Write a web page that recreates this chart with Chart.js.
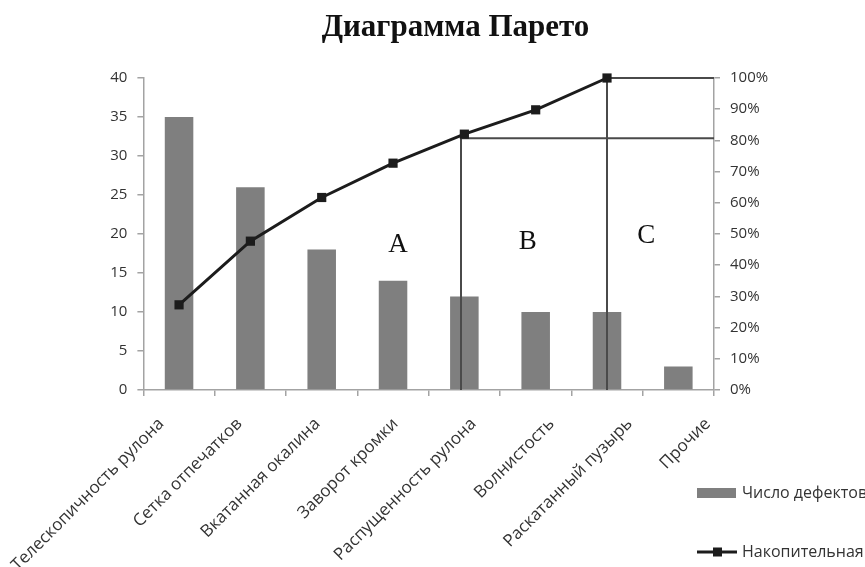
<!DOCTYPE html>
<html lang="ru">
<head>
<meta charset="utf-8">
<title>Диаграмма Парето</title>
<script src="https://cdn.jsdelivr.net/npm/chart.js@4"></script>
<style>
  html, body { margin: 0; padding: 0; background: #ffffff; }
  #wrap { position: relative; width: 865px; height: 567px; }
</style>
</head>
<body>
<div id="wrap"><canvas id="pareto"></canvas></div>
<script>
// Defect types, sorted by frequency
const categories = [
  'Телескопичность рулона',
  'Сетка отпечатков',
  'Вкатанная окалина',
  'Заворот кромки',
  'Распущенность рулона',
  'Волнистость',
  'Раскатанный пузырь',
  'Прочие'
];
// Number of defects per type
const defectCounts = [35, 26, 18, 14, 12, 10, 10, 3];
// Cumulative share, %
const cumulativeShare = [27.3, 47.7, 61.7, 72.7, 82.0, 89.8, 100, null];
// Axis ranges and steps
const countAxis = { min: 0, max: 40, step: 5 };
const shareAxis = { min: 0, max: 100, step: 10 };
// ABC zones: border after a category at a given cumulative level
const zoneBorders = [
  { index: 4, level: 80.7, shift: -3 },
  { index: 6, level: 100, shift: 0 }
];
const zoneNames = ['A', 'B', 'C'];

const seriesNames = ['Число дефектов', 'Накопительная'];

const sansFont = '"Open Sans", "DejaVu Sans", sans-serif';
const serifFont = '"Liberation Serif", "Times New Roman", serif';
const textColor = '#333333';
const axisColor = '#a3a3a3';
const barColor = '#7f7f7f';
const lineColor = '#1c1c1c';

// Zone letter placement (category coordinate, count coordinate)
const zoneLetterPos = [
  { at: 3.07, count: 18.6 },
  { at: 4.89, count: 19.0 },
  { at: 6.55, count: 19.8 }
];

function drawZones(chart) {
  const { ctx, chartArea } = chart;
  const x = chart.scales.x, y = chart.scales.y, y1 = chart.scales.y1;
  ctx.save();
  ctx.strokeStyle = '#4a4a4a';
  ctx.lineWidth = 2;
  zoneBorders.forEach(b => {
    const px = Math.round(x.getPixelForValue(b.index)) + b.shift;
    const topY = y1.getPixelForValue(cumulativeShare[b.index]);
    const levelY = y1.getPixelForValue(b.level);
    ctx.beginPath();
    ctx.moveTo(px, y.getPixelForValue(0));
    ctx.lineTo(px, topY);
    ctx.stroke();
    ctx.beginPath();
    ctx.moveTo(px, levelY);
    ctx.lineTo(chartArea.right, levelY);
    ctx.stroke();
  });
  ctx.fillStyle = '#111111';
  ctx.font = '27px ' + serifFont;
  ctx.textAlign = 'center';
  ctx.textBaseline = 'middle';
  zoneNames.forEach((name, i) => {
    const p = zoneLetterPos[i];
    ctx.fillText(name, x.getPixelForValue(p.at), y.getPixelForValue(p.count));
  });
  ctx.restore();
}

const paretoOverlay = {
  id: 'paretoOverlay',
  beforeDatasetDraw(chart, args) {
    // zone borders go above the bars but below the cumulative line
    if (chart.data.datasets[args.index].type === 'line') drawZones(chart);
  },
  afterDraw(chart) {
    // legend below the right axis
    const { ctx, chartArea } = chart;
    const left = chartArea.right - 17;
    const rows = [chartArea.bottom + 103, chartArea.bottom + 162];
    const bar = chart.data.datasets.find(d => d.type === 'bar');
    const line = chart.data.datasets.find(d => d.type === 'line');
    ctx.save();
    ctx.fillStyle = bar.backgroundColor;
    ctx.fillRect(left, rows[0] - 5, 39, 10);
    ctx.strokeStyle = line.borderColor;
    ctx.lineWidth = 3;
    ctx.beginPath();
    ctx.moveTo(left, rows[1]);
    ctx.lineTo(left + 40, rows[1]);
    ctx.stroke();
    ctx.fillStyle = line.pointBackgroundColor;
    ctx.fillRect(left + 16, rows[1] - 4.5, 9, 9);
    ctx.font = '16px ' + sansFont;
    ctx.fillStyle = textColor;
    ctx.textAlign = 'left';
    ctx.textBaseline = 'middle';
    ctx.fillText(bar.label, left + 45, rows[0]);
    ctx.fillText(line.label, left + 45, rows[1]);
    ctx.restore();
  }
};

new Chart(document.getElementById('pareto'), {
  type: 'bar',
  data: {
    labels: categories,
    datasets: [
      {
        type: 'line',
        label: seriesNames[1],
        data: cumulativeShare,
        yAxisID: 'y1',
        borderColor: lineColor,
        borderWidth: 3,
        pointStyle: 'rect',
        pointRadius: 6.5,
        pointBackgroundColor: lineColor,
        pointBorderColor: lineColor,
        pointBorderWidth: 0,
        tension: 0,
        spanGaps: false,
        clip: false,
        order: 0
      },
      {
        type: 'bar',
        label: seriesNames[0],
        data: defectCounts,
        yAxisID: 'y',
        backgroundColor: barColor,
        borderWidth: 0,
        barPercentage: 0.4,
        categoryPercentage: 1,
        order: 1
      }
    ]
  },
  options: {
    responsive: true,
    maintainAspectRatio: false,
    animation: false,
    layout: { padding: { left: 46, right: 0, top: 0, bottom: 0 } },
    plugins: {
      legend: { display: false },
      tooltip: { enabled: false },
      title: {
        display: true,
        text: 'Диаграмма Парето',
        color: '#111111',
        font: { family: serifFont, size: 31, weight: 'bold', lineHeight: 1.2 },
        padding: { top: 9, bottom: 31.8 }
      }
    },
    scales: {
      x: {
        type: 'category',
        position: 'bottom',
        weight: 0,
        offset: true,
        grid: { display: true, offset: true, drawOnChartArea: false, drawTicks: true, tickLength: 6, color: axisColor, lineWidth: 1.5 },
        border: { display: true, color: axisColor, width: 1.5 },
        ticks: { display: false },
        afterFit(scale) { scale.height = 6; }
      },
      // category names, spread a little wider than the bars
      x2: {
        type: 'linear',
        position: 'bottom',
        weight: 1,
        offset: false,
        min: -0.23,
        max: 7.08,
        grid: { display: false },
        border: { display: false },
        afterBuildTicks(scale) { scale.ticks = categories.map((_, i) => ({ value: i })); },
        afterFit(scale) { scale.height = 171; },
        ticks: {
          autoSkip: false,
          minRotation: 45,
          maxRotation: 45,
          padding: 10,
          color: textColor,
          font: { family: sansFont, size: 17 },
          callback: (v) => categories[v]
        }
      },
      y: {
        type: 'linear',
        position: 'left',
        min: countAxis.min,
        max: countAxis.max,
        grid: { display: true, drawOnChartArea: false, drawTicks: true, tickLength: 6, color: axisColor, lineWidth: 1.5 },
        border: { display: true, color: axisColor, width: 1.5 },
        ticks: { stepSize: countAxis.step, padding: 10, color: textColor, font: { family: sansFont, size: 15 } },
        afterFit(scale) { scale.width = 97; }
      },
      y1: {
        type: 'linear',
        position: 'right',
        min: shareAxis.min,
        max: shareAxis.max,
        grid: { display: true, drawOnChartArea: false, drawTicks: true, tickLength: 6, color: axisColor, lineWidth: 1.5 },
        border: { display: true, color: axisColor, width: 1.5 },
        ticks: { stepSize: shareAxis.step, padding: 10, color: textColor, font: { family: sansFont, size: 15 }, callback: v => v + '%' },
        afterFit(scale) { scale.width = 151; }
      }
    }
  },
  plugins: [paretoOverlay]
});
</script>
</body>
</html>
